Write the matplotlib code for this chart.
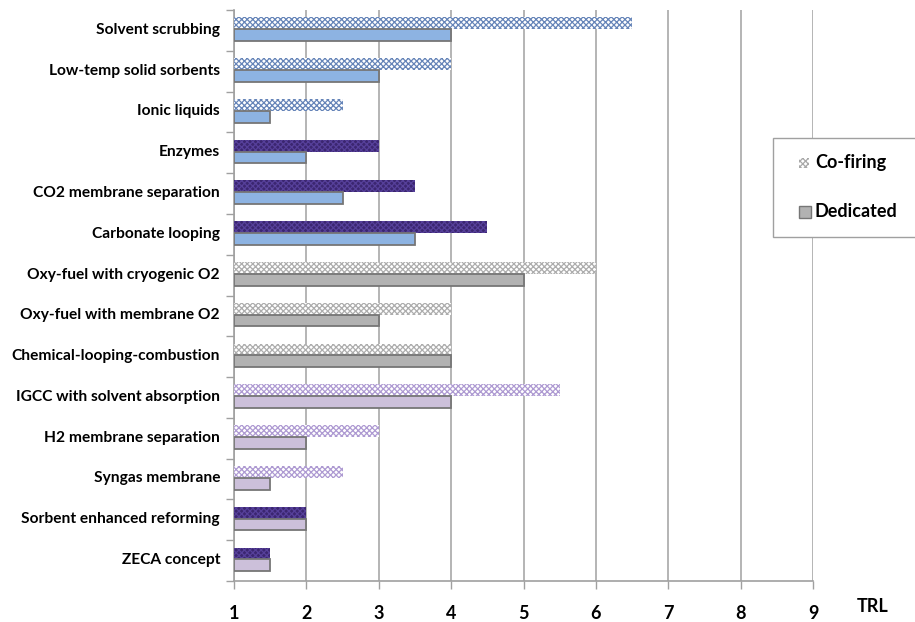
import matplotlib
matplotlib.use("Agg")
import matplotlib.pyplot as plt
import numpy as np
from matplotlib.patches import Rectangle

categories = [
    "Solvent scrubbing", "Low-temp solid sorbents", "Ionic liquids", "Enzymes",
    "CO2 membrane separation", "Carbonate looping", "Oxy-fuel with cryogenic O2",
    "Oxy-fuel with membrane O2", "Chemical-looping-combustion",
    "IGCC with solvent absorption", "H2 membrane separation", "Syngas membrane",
    "Sorbent enhanced reforming", "ZECA concept",
]
cofiring = [6.5, 4, 2.5, 3, 3.5, 4.5, 6, 4, 4, 5.5, 3, 2.5, 2, 1.5]
dedicated = [4, 3, 1.5, 2, 2.5, 3.5, 5, 3, 4, 4, 2, 1.5, 2, 1.5]
trl_ticks = [1, 2, 3, 4, 5, 6, 7, 8, 9]
legend_labels = ["Co-firing", "Dedicated"]

# style keys: (co-firing face, co-firing hatch colour, dedicated face)
blue = ("white", "#6584B8", "#8DB3E2")
dark_on_blue = ("#3B2670", "#56409A", "#8DB3E2")
grey = ("white", "#ADADAD", "#B2B2B2")
lav = ("white", "#AE9AD2", "#CCC0DA")
dark_on_lav = ("#3B2670", "#56409A", "#CCC0DA")
styles = [blue, blue, blue, dark_on_blue, dark_on_blue, dark_on_blue,
          grey, grey, grey, lav, lav, lav, dark_on_lav, dark_on_lav]

plt.rcParams["font.family"] = ["Lato", "DejaVu Sans"]
plt.rcParams["hatch.linewidth"] = 0.9

W, H = 915, 622
fig = plt.figure(figsize=(W / 100, H / 100), dpi=100)
ax = fig.add_axes([234 / W, 1 - 581 / H, (813 - 234) / W, 571 / H])

y = np.arange(len(categories))
h = 0.29
x0 = trl_ticks[0]
for i, (c, d) in enumerate(zip(cofiring, dedicated)):
    face, hcol, dface = styles[i]
    ax.barh(y[i] - h / 2 - 0.03, c - x0, left=x0, height=h, color=face,
            edgecolor=hcol, hatch="xxxxxx", linewidth=0, zorder=3)
    ax.barh(y[i] + h / 2 - 0.03, d - x0, left=x0, height=h, color=dface,
            edgecolor="#767676", linewidth=1.3, zorder=3)

ax.set_xlim(1, 9)
ax.set_ylim(len(categories) - 0.5, -0.5)
ax.set_xticks(trl_ticks)
ax.set_xticklabels([str(t) for t in trl_ticks], fontsize=13, fontweight="bold")
ax.set_yticks(y - 0.05)
ax.set_yticklabels(categories, fontsize=11.2, fontweight="bold")
ax.set_yticks(np.arange(len(categories) + 1) - 0.5, minor=True)
ax.tick_params(axis="y", which="major", length=0, pad=10)
ax.tick_params(axis="y", which="minor", length=6, color="#A0A0A0", width=1)
ax.tick_params(axis="x", length=6, color="#A0A0A0", width=1, pad=11)

ax.grid(axis="x", color="#A8A8A8", linewidth=1.2, zorder=0)
for s in ["top", "right"]:
    ax.spines[s].set_visible(False)
for s in ["left", "bottom"]:
    ax.spines[s].set_color("#A0A0A0")
    ax.spines[s].set_linewidth(1.2)

fig.text(873 / W, 1 - 607 / H, "TRL", fontsize=13, fontweight="bold",
         ha="center", va="center")


def fig_rect(x_px, y_px, w_px, h_px, **kw):
    """Rectangle given in pixel units from the top-left corner of the figure."""
    return Rectangle((x_px / W, 1 - (y_px + h_px) / H), w_px / W, h_px / H,
                     transform=fig.transFigure, **kw)


# legend box, running off the right edge of the figure
fig.patches.append(fig_rect(773, 138, 160, 99, facecolor="white",
                            edgecolor="#A0A0A0", linewidth=1.0, zorder=5))
fig.patches.append(fig_rect(799, 158, 10, 10, facecolor="white",
                            edgecolor="#A8A8A8", hatch="xxxxxx", linewidth=0,
                            zorder=6))
fig.patches.append(fig_rect(799, 206, 12, 12, facecolor="#B2B2B2",
                            edgecolor="#767676", linewidth=1.0, zorder=6))
for label, ypx in zip(legend_labels, [163, 212]):
    fig.text(815 / W, 1 - ypx / H, label, fontsize=13, fontweight="bold",
             ha="left", va="center", zorder=7)

fig.savefig("out.png", dpi=100)
